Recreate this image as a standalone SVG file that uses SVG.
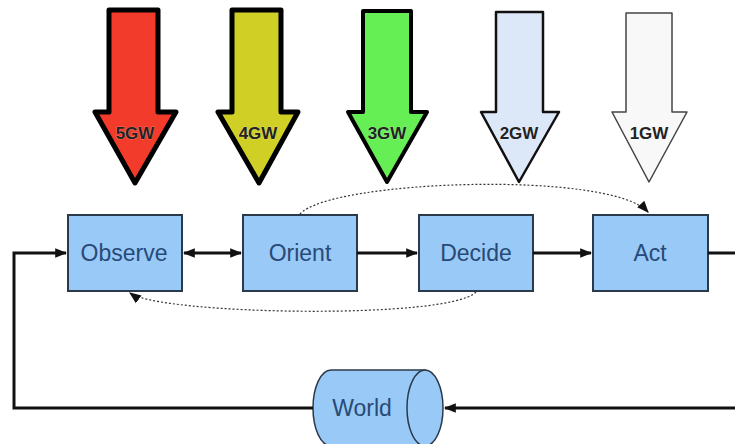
<svg xmlns="http://www.w3.org/2000/svg" width="735" height="444" viewBox="0 0 735 444">
<defs>
<marker id="ah" viewBox="0 0 10 10" refX="9" refY="5" markerWidth="4" markerHeight="4" orient="auto-start-reverse" markerUnits="strokeWidth">
<path d="M0,1 L10,5 L0,9 Z" fill="#111"/>
</marker>
<marker id="ahd" viewBox="0 0 10 10" refX="9" refY="5" markerWidth="10" markerHeight="10" orient="auto" markerUnits="strokeWidth">
<path d="M0,1 L10,5 L0,9 Z" fill="#111"/>
</marker>
</defs>
<style>
.box{fill:#99c9f7;stroke:#2b3a4a;stroke-width:2}
.lbl{font-family:"Liberation Sans",Arial,sans-serif;font-size:23px;fill:#284a76;text-anchor:middle;dominant-baseline:central}
.gw{font-family:"Liberation Sans",Arial,sans-serif;font-size:17px;font-weight:bold;fill:#222;text-anchor:middle;dominant-baseline:central;stroke:#fff;stroke-width:0.6;stroke-opacity:0.5;paint-order:stroke}
.con{fill:none;stroke:#111;stroke-width:3}
.dot{fill:none;stroke:#333;stroke-width:1.2;stroke-dasharray:2,2}
</style>
<rect width="735" height="444" fill="#fff"/>
<g id="gw5">
<path d="M109,10 H158 V112 H176 L135,183 L95,112 H109 Z" fill="#f23b2b" stroke="#000" stroke-width="5" stroke-linejoin="round"/>
<text class="gw" x="135" y="133">5GW</text>
</g>
<g id="gw4">
<path d="M232,10 H281 V112 H298 L259,183 L218,112 H232 Z" fill="#cfcf25" stroke="#000" stroke-width="5" stroke-linejoin="round"/>
<text class="gw" x="258" y="133">4GW</text>
</g>
<g id="gw3">
<path d="M363,11 H411 V112 H427 L387,182 L348,112 H363 Z" fill="#66ee55" stroke="#000" stroke-width="4" stroke-linejoin="round"/>
<text class="gw" x="387" y="133">3GW</text>
</g>
<g id="gw2">
<path d="M496,12 H543 V112 H559 L519,182 L481,112 H496 Z" fill="#dce8f8" stroke="#111" stroke-width="2.5" stroke-linejoin="round"/>
<text class="gw" x="519" y="133">2GW</text>
</g>
<g id="gw1">
<path d="M626,13 H672 V112 H687 L649,182 L612,112 H626 Z" fill="#f8f8f8" stroke="#444" stroke-width="1.5" stroke-linejoin="round"/>
<text class="gw" x="649" y="133">1GW</text>
</g>
<g id="observe">
<rect class="box" x="68" y="215" width="114" height="76"/>
<text class="lbl" x="124" y="253">Observe</text>
</g>
<g id="orient">
<rect class="box" x="243" y="215" width="114" height="76"/>
<text class="lbl" x="300" y="253">Orient</text>
</g>
<g id="decide">
<rect class="box" x="419" y="215" width="114" height="76"/>
<text class="lbl" x="476" y="253">Decide</text>
</g>
<g id="act">
<rect class="box" x="593" y="215" width="115" height="76"/>
<text class="lbl" x="650" y="253">Act</text>
</g>
<g id="world">
<path d="M331,370 H425 V446 H331 A18,38 0 0 1 331,370 Z" fill="#99c9f7" stroke="#2b3a4a" stroke-width="1.5"/>
<ellipse cx="425" cy="408" rx="18" ry="38" fill="#99c9f7" stroke="#2b3a4a" stroke-width="1.5"/>
<text class="lbl" x="362" y="408">World</text>
</g>
<g id="connectors">
<line class="con" x1="184" y1="253" x2="241" y2="253" marker-start="url(#ah)" marker-end="url(#ah)"/>
<line class="con" x1="357" y1="253" x2="417" y2="253" marker-end="url(#ah)"/>
<line class="con" x1="533" y1="253" x2="591" y2="253" marker-end="url(#ah)"/>
<polyline class="con" points="708,253 737,253"/>
<polyline class="con" points="737,408 445,408" marker-end="url(#ah)"/>
<polyline class="con" points="313,408 14,408 14,253 66,253" marker-end="url(#ah)"/>
<path class="dot" d="M300,214 C330,180 610,170 648,212" marker-end="url(#ahd)"/>
<path class="dot" d="M476,292 C450,320 160,315 130,293" marker-end="url(#ahd)"/>
</g>
</svg>
